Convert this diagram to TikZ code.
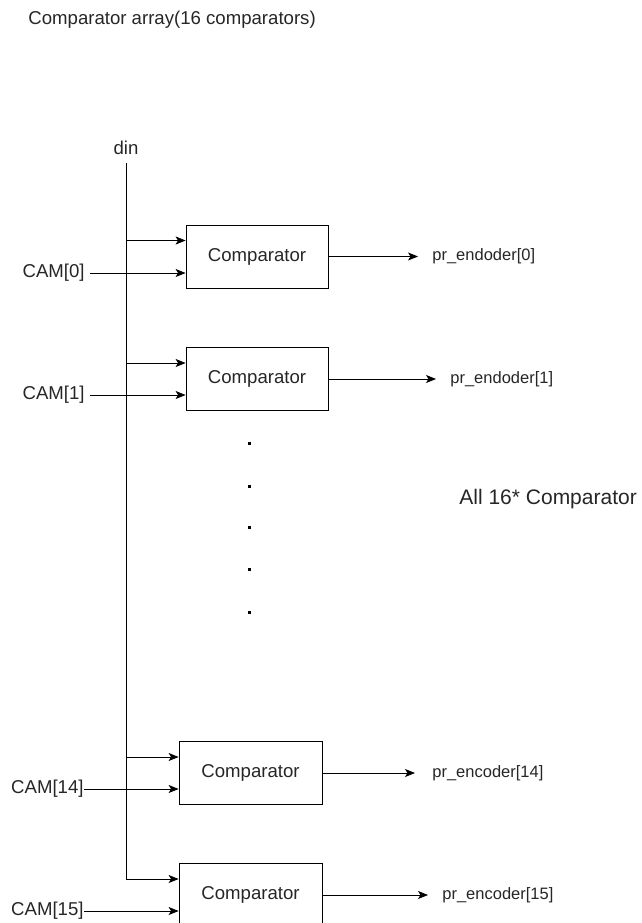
\documentclass[tikz,border=0pt]{standalone}
\usepackage{fontspec}
\setmainfont{Liberation Sans}
\usetikzlibrary{arrows.meta}

\tikzset{
  cmp/.style={draw, minimum width=142pt, minimum height=63pt, inner sep=0pt,
    font=\fontsize{18.6}{21}\selectfont},
  lbl/.style={inner sep=0pt, font=\fontsize{18.6}{21}\selectfont},
  outlbl/.style={inner sep=0pt, anchor=west, font=\fontsize{16.5}{19}\selectfont},
  sig/.style={-{Stealth[length=10pt, width=8pt, inset=2.5pt]}},
}

\begin{document}
\begin{tikzpicture}[x=1pt, y=-1pt, line width=0.8pt, every node/.append style={text=black!85}]
        \useasboundingbox (0,0) rectangle (641,923);

        \node[lbl, anchor=west] (title) at (28,20) {Comparator array(16 comparators)};
        \node[lbl] (din) at (126,148) {din};
        \coordinate (bustop) at (126,163);

        \node[cmp] (c0) at (257,256.5) {Comparator};
        \node[cmp] (c1) at (257,379) {Comparator};
        \node[cmp, minimum width=143pt] (c14) at (250.5,773) {Comparator};
        \node[cmp, minimum width=143pt] (c15) at (250.5,895) {Comparator};

        \node[lbl, anchor=east] (cam0) at (85,273) {CAM[0]};
        \node[lbl, anchor=east] (cam1) at (85,395) {CAM[1]};
        \node[lbl, anchor=east] (cam14) at (84,789) {CAM[14]};
        \node[lbl, anchor=east] (cam15) at (84,911) {CAM[15]};

        \node[outlbl] (o0) at (432,256.5) {pr\_endoder[0]};
        \node[outlbl] (o1) at (450,379) {pr\_endoder[1]};
        \node[outlbl] (o14) at (432,773) {pr\_encoder[14]};
        \node[outlbl] (o15) at (442,895) {pr\_encoder[15]};

        \node[lbl, anchor=west, font=\fontsize{21}{24}\selectfont] (all) at (459,499) {All 16* Comparator};

        % din bus and its taps
        \draw[sig] (bustop) |- ([yshift=16pt]c15.west);
        \draw[sig] (bustop) |- ([yshift=16pt]c0.west);
        \draw[sig] (bustop) |- ([yshift=16pt]c1.west);
        \draw[sig] (bustop) |- ([yshift=16pt]c14.west);

        % CAM inputs
        \draw[sig] ([xshift=5pt]cam0.east) -- (cam0.east -| c0.west);
        \draw[sig] ([xshift=5pt]cam1.east) -- (cam1.east -| c1.west);
        \draw[sig] (cam14.east) -- (cam14.east -| c14.west);
        \draw[sig] (cam15.east) -- (cam15.east -| c15.west);

        % outputs
        \draw[sig, shorten >=14pt] (c0.east) -- (o0.west);
        \draw[sig, shorten >=14pt] (c1.east) -- (o1.west);
        \draw[sig, shorten >=17pt] (c14.east) -- (o14.west);
        \draw[sig, shorten >=14pt] (c15.east) -- (o15.west);

        \foreach \y in {443,486,527,569,612}
          \fill (247.5,\y-1.5) rectangle ++(3,3);
      \end{tikzpicture}
\end{document}
